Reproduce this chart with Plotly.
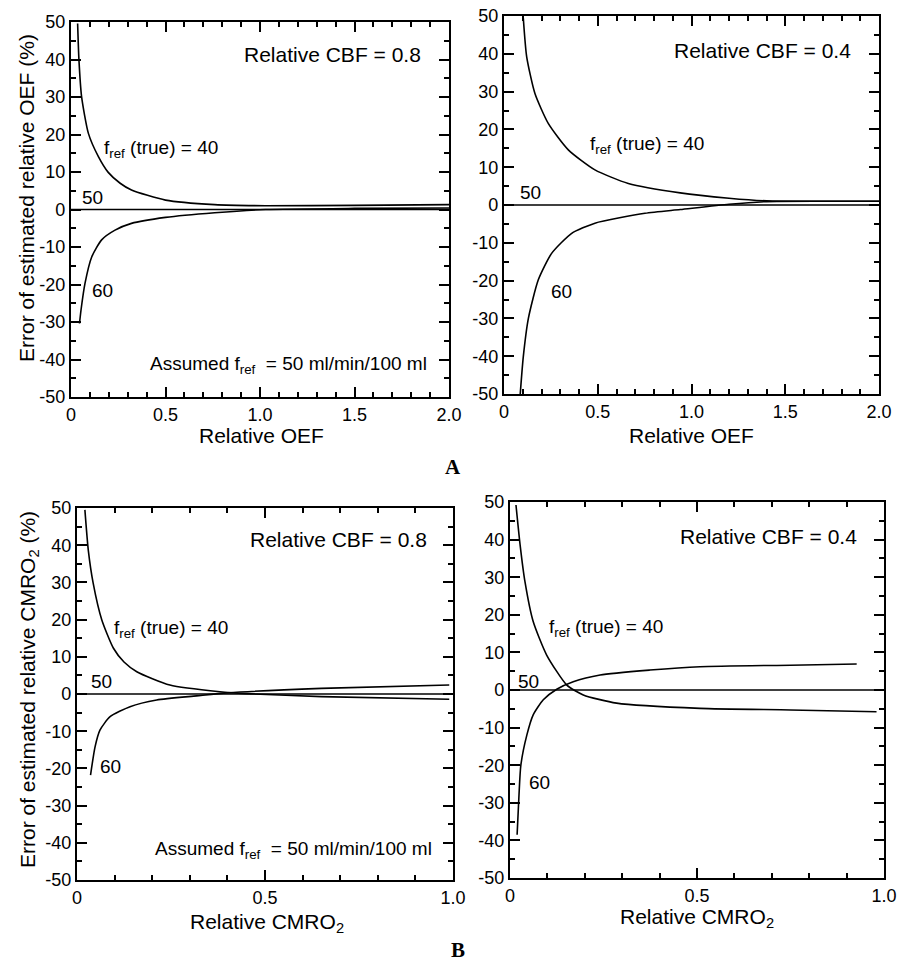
import plotly.graph_objects as go

# ---------------- data ----------------
# Panel A, left: Relative CBF = 0.8, x = relative OEF
oef08_x40 = [0.035, 0.042, 0.056, 0.092, 0.145, 0.197, 0.26, 0.32, 0.5, 0.76, 1.03, 1.5, 2.0]
oef08_y40 = [49.6, 39.9, 30.1, 20.3, 14.1, 9.9, 7.0, 5.2, 2.5, 1.3, 1.0, 1.1, 1.3]
oef08_x60 = [0.045, 0.053, 0.074, 0.11, 0.162, 0.233, 0.32, 0.5, 0.76, 1.03, 1.5, 2.0]
oef08_y60 = [-30.4, -26.8, -19.7, -12.6, -8.1, -5.5, -3.7, -2.1, -0.85, 0.0, 0.3, 0.4]

# Panel A, right: Relative CBF = 0.4, x = relative OEF
oef04_x40 = [0.103, 0.121, 0.165, 0.236, 0.343, 0.485, 0.663, 0.94, 1.2, 1.4, 1.7, 2.0]
oef04_y40 = [49.4, 39.2, 29.5, 21.6, 14.6, 9.3, 5.7, 3.2, 1.8, 1.1, 1.0, 1.0]
oef04_x60 = [0.085, 0.103, 0.13, 0.183, 0.254, 0.361, 0.485, 0.752, 0.94, 1.2, 1.4, 1.7, 2.0]
oef04_y60 = [-51.0, -40.1, -30.0, -19.8, -12.8, -7.5, -4.8, -2.2, -1.2, 0.2, 0.9, 1.0, 1.0]

# Panel B, left: Relative CBF = 0.8, x = relative CMRO2
cmr08_x40 = [0.021, 0.030, 0.043, 0.066, 0.097, 0.125, 0.159, 0.247, 0.38, 0.45, 0.65, 0.99]
cmr08_y40 = [49.5, 38.7, 29.8, 19.9, 12.3, 8.6, 6.0, 2.4, 0.6, 0.1, -0.7, -1.4]
cmr08_x60 = [0.036, 0.048, 0.061, 0.088, 0.141, 0.212, 0.318, 0.40, 0.65, 0.99]
cmr08_y60 = [-21.8, -14.2, -9.7, -6.1, -3.4, -1.6, -0.5, 0.3, 1.5, 2.4]

# Panel B, right: Relative CBF = 0.4, x = relative CMRO2
cmr04_x40 = [0.016, 0.027, 0.040, 0.062, 0.098, 0.152, 0.196, 0.285, 0.508, 0.75, 0.98]
cmr04_y40 = [49.2, 38.6, 28.8, 18.2, 9.3, 1.3, -1.3, -3.5, -4.9, -5.3, -5.8]
cmr04_x60 = [0.019, 0.024, 0.029, 0.045, 0.062, 0.089, 0.125, 0.169, 0.241, 0.374, 0.508, 0.75, 0.927]
cmr04_y60 = [-38.5, -28.0, -20.0, -12.0, -6.6, -2.6, 0.2, 2.2, 4.0, 5.3, 6.2, 6.6, 6.9]

# f_ref(true) = 50 : zero error
zero_x_oef = [0, 2]
zero_x_cmr = [0, 1]
zero_y = [0, 0]

y_ticks = [50, 40, 30, 20, 10, 0, -10, -20, -30, -40, -50]
y_ticktext = ["50", "40", "30", "20", "10", "0", "-10", "-20", "-30", "-40", "-50"]
oef_ticks = [0, 0.5, 1.0, 1.5, 2.0]
oef_ticktext = ["0", "0.5", "1.0", "1.5", "2.0"]
cmr_ticks = [0, 0.5, 1.0]
cmr_ticktext = ["0", "0.5", "1.0"]

# ---------------- figure ----------------
W, H = 899, 969
FONT = "Liberation Sans, Arial, Helvetica, sans-serif"

fig = go.Figure()

def px_dom_x(a, b):
    return [a / W, b / W]

def px_dom_y(top, bottom):
    return [1 - bottom / H, 1 - top / H]

panels = [
    ("1", px_dom_x(71, 449), px_dom_y(22, 397), [0, 2], oef_ticks, oef_ticktext,
     (oef08_x40, oef08_y40), (oef08_x60, oef08_y60), zero_x_oef),
    ("2", px_dom_x(504, 879), px_dom_y(16, 394), [0, 2], oef_ticks, oef_ticktext,
     (oef04_x40, oef04_y40), (oef04_x60, oef04_y60), zero_x_oef),
    ("3", px_dom_x(77, 453), px_dom_y(508, 880), [0, 1], cmr_ticks, cmr_ticktext,
     (cmr08_x40, cmr08_y40), (cmr08_x60, cmr08_y60), zero_x_cmr),
    ("4", px_dom_x(510, 884), px_dom_y(502, 878), [0, 1], cmr_ticks, cmr_ticktext,
     (cmr04_x40, cmr04_y40), (cmr04_x60, cmr04_y60), zero_x_cmr),
]

line_style = dict(color="black", width=1.6, shape="spline", smoothing=0.6)

for name, xd, yd, xr, xt, xtt, c40, c60, zx in panels:
    xa = "x" if name == "1" else "x" + name
    ya = "y" if name == "1" else "y" + name
    fig.add_trace(go.Scatter(x=c40[0], y=c40[1], mode="lines", line=line_style,
                             xaxis=xa, yaxis=ya, showlegend=False, hoverinfo="skip"))
    fig.add_trace(go.Scatter(x=c60[0], y=c60[1], mode="lines", line=line_style,
                             xaxis=xa, yaxis=ya, showlegend=False, hoverinfo="skip"))
    fig.add_trace(go.Scatter(x=zx, y=zero_y, mode="lines",
                             line=dict(color="black", width=1.6),
                             xaxis=xa, yaxis=ya, showlegend=False, hoverinfo="skip"))
    axis_common = dict(showline=True, linecolor="black", linewidth=2.2, mirror="allticks",
                       ticks="inside", ticklen=10, tickwidth=2, tickcolor="black",
                       showgrid=False, zeroline=False, automargin=False,
                       ticklabeloverflow="allow",
                       tickfont=dict(family=FONT, size=18, color="black"))
    xkey = "xaxis" if name == "1" else "xaxis" + name
    ykey = "yaxis" if name == "1" else "yaxis" + name
    fig.update_layout(**{
        xkey: dict(domain=xd, range=xr, anchor=ya, tickmode="array", tickvals=xt, ticktext=xtt,
                   minor=dict(ticks="inside", dtick=0.1, ticklen=5, tickwidth=1.6, tickcolor="black",
                              showgrid=False),
                   **axis_common),
        ykey: dict(domain=yd, range=[-50, 50], anchor=xa, tickmode="array", tickvals=y_ticks,
                   ticktext=y_ticktext,
                   minor=dict(ticks="inside", dtick=5, ticklen=5, tickwidth=1.6, tickcolor="black",
                              showgrid=False),
                   **axis_common),
    })

ann = []

def data_text(text, xref, yref, x, y, size=19, xanchor="center"):
    ann.append(dict(text=text, x=x, y=y, xref=xref, yref=yref, showarrow=False,
                    xanchor=xanchor, yanchor="middle",
                    font=dict(family=FONT, size=size, color="black")))

def paper_text(text, px, py, size=21, angle=0, family=FONT, xanchor="center"):
    ann.append(dict(text=text, x=px / W, y=1 - py / H, xref="paper", yref="paper",
                    showarrow=False, xanchor=xanchor, yanchor="middle", textangle=angle,
                    font=dict(family=family, size=size, color="black")))

fref40 = "f<sub>ref</sub> (true) = 40"
assumed = "Assumed f<sub>ref</sub>  = 50 ml/min/100 ml"

# Panel 1
data_text("Relative CBF = 0.8", "x", "y", 1.386, 41.2, size=21)
data_text(fref40, "x", "y", 0.164, 16.0, xanchor="left")
data_text("50", "x", "y", 0.116, 3.2)
data_text("60", "x", "y", 0.164, -21.5)
data_text(assumed, "x", "y", 0.407, -41.5, xanchor="left")
# Panel 2
data_text("Relative CBF = 0.4", "x2", "y2", 1.379, 41.0, size=21)
data_text(fref40, "x2", "y2", 0.45, 16.0, xanchor="left")
data_text("50", "x2", "y2", 0.139, 3.3)
data_text("60", "x2", "y2", 0.309, -22.9)
# Panel 3
data_text("Relative CBF = 0.8", "x3", "y3", 0.695, 41.4, size=21)
data_text(fref40, "x3", "y3", 0.092, 17.4, xanchor="left")
data_text("50", "x3", "y3", 0.066, 3.3)
data_text("60", "x3", "y3", 0.088, -19.5)
data_text(assumed, "x3", "y3", 0.203, -42.0, xanchor="left")
# Panel 4
data_text("Relative CBF = 0.4", "x4", "y4", 0.691, 40.8, size=21)
data_text(fref40, "x4", "y4", 0.098, 16.6, xanchor="left")
data_text("50", "x4", "y4", 0.049, 2.2)
data_text("60", "x4", "y4", 0.080, -24.7)

# axis titles
paper_text("Relative OEF", 261, 435)
paper_text("Relative OEF", 691, 435)
paper_text("Relative CMRO<sub>2</sub>", 267, 923)
paper_text("Relative CMRO<sub>2</sub>", 697, 918)
paper_text("Error of estimated relative OEF (%)", 26, 198, angle=-90)
paper_text("Error of estimated relative CMRO<sub>2</sub> (%)", 29, 690, angle=-90)

# panel letters
paper_text("<b>A</b>", 453, 467, size=21, family="Liberation Serif, Times New Roman, serif")
paper_text("<b>B</b>", 458, 950, size=21, family="Liberation Serif, Times New Roman, serif")

fig.update_layout(
    width=W, height=H,
    margin=dict(l=0, r=0, t=0, b=0),
    paper_bgcolor="white", plot_bgcolor="white",
    annotations=ann,
    showlegend=False,
)

# remove the page's default body margin so the 899x969 figure fills the window exactly
fig.write_html("out.html",
               config={"displayModeBar": False},
               post_script="document.body.style.margin='0px';document.body.style.overflow='hidden';")
